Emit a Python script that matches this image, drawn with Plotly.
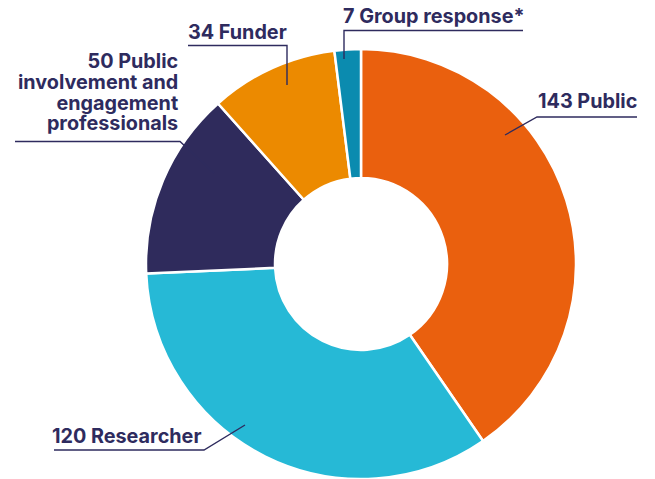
import plotly.graph_objects as go

categories = ["Public", "Researcher", "Public involvement and engagement professionals", "Funder", "Group response*"]
values = [143, 120, 50, 34, 7]
colors = ["#EA600E", "#26B9D6", "#2F2B5C", "#EC8A00", "#0B8BAF"]
pie_label_lines = ["50 Public", "involvement and", "engagement", "professionals"]

W, H = 655, 479
NAVY = "#2E2B5E"
FONT = "Inter"
FS = 19.8

def px(x):
    return x / W

def py(y):
    return 1 - y / H

fig = go.Figure(go.Pie(
    labels=categories,
    values=values,
    marker=dict(colors=colors, line=dict(color="white", width=2.5)),
    hole=0.40,
    sort=False,
    direction="clockwise",
    rotation=0,
    textinfo="none",
    hoverinfo="label+value",
    showlegend=False,
    domain=dict(x=[px(361 - 215), px(361 + 215)], y=[0, py(49)]),
))

# single-line labels: (text, x, y, xanchor)
labels = [
    ("143 Public", 638, 101, "right"),
    ("7 Group response*", 342, 16, "left"),
    ("34 Funder", 187, 32, "left"),
    ("120 Researcher", 51, 436, "left"),
]
for t, x, y, xa in labels:
    fig.add_annotation(text=t, x=px(x), y=py(y), xref="paper", yref="paper",
                       xanchor=xa, yanchor="middle", showarrow=False, borderpad=0,
                       font=dict(family=FONT, size=FS, color=NAVY, weight="bold"))

# wrapped label: line spacing from a 16px base font (1.3 em ~ 21px), glyphs at FS
wrapped = "<br>".join(f"<span style='font-size:{FS}px'>{s}</span>" for s in pie_label_lines)
fig.add_annotation(text=wrapped, x=px(179), y=py(91.5), xref="paper", yref="paper",
                   xanchor="right", yanchor="middle", align="right", showarrow=False,
                   borderpad=0,
                   font=dict(family=FONT, size=16, color=NAVY, weight="bold"))

# leader lines (polylines)
leaders = [
    [(637, 117), (537, 117), (505, 135)],
    [(523, 30.5), (344, 30.5), (344, 59)],
    [(188, 45.5), (287, 45.5), (287, 85)],
    [(15, 141.5), (180, 141.5), (214, 173)],
    [(54, 450), (204, 450), (245, 425)],
]
for pts in leaders:
    path = "M " + " L ".join(f"{px(x)},{py(y)}" for x, y in pts)
    fig.add_shape(type="path", path=path, xref="paper", yref="paper",
                  line=dict(color=NAVY, width=1.4))

fig.update_layout(
    width=W, height=H,
    margin=dict(l=0, r=0, t=0, b=0),
    paper_bgcolor="white",
    plot_bgcolor="white",
)

fig.write_html("out.html", config={"displayModeBar": False},
               post_script="document.body.style.margin='0';document.body.style.padding='0';")
